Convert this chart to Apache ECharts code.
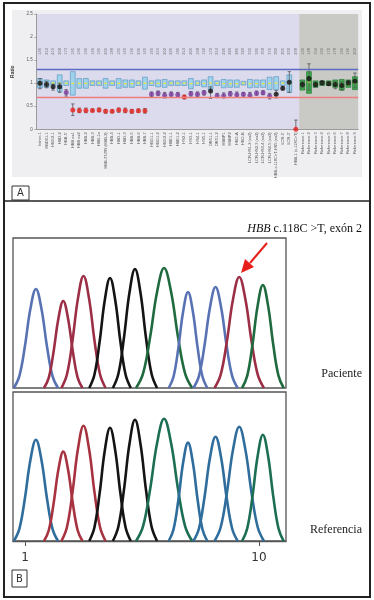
<!DOCTYPE html>
<html>
<head>
<meta charset="utf-8">
<script src="https://cdn.jsdelivr.net/npm/echarts@6/dist/echarts.min.js"></script>
<style>
  html, body { margin: 0; padding: 0; background: #fff; }
  #chart { width: 374px; height: 600px; }
</style>
</head>
<body>
<div id="chart"></div>
<script>
// ---- Panel A: ratios por sonda ----
const targetProbes = [
  'Intron 1', 'HBD01.1', 'HBG2-1', 'HBD-2', 'HBB-5\'', 'HBB ex1', 'HBB ex2', 'HBB-2', 'HBB-3', 'HBB-1a',
  'HBB-3\'UTR (HBB-2)', 'HBB-4', 'HBD-1', 'HBD-3', 'HBB-5', 'HBB-6', 'HBB-7', 'HBG1-1', 'HBG1-2', 'HBG2-2',
  'HBE1-1', 'HBE1-2', 'HS2-1', 'HS3-1', 'HS4-1', 'HS5-1', 'OR51-1', 'OR51-2', 'HBBP1', 'HBBP2',
  'HBG-A', 'HBG-B', 'LCR-HS1-2 (ex2)', 'LCR-HS2-3 (ex2)', 'LCR-HS3-4 (ex2)', 'LCR-HS4-5 (ex2)',
  'HBB-c.118C>T-HS5 (ex2)', 'LCR-5\'', 'LCR-3\'', 'HBB-1 (c.118C>T)'
];
const controlProbes = [
  'Reference 1', 'Reference 2', 'Reference 3', 'Reference 4', 'Reference 5',
  'Reference 6', 'Reference 7', 'Reference 8', 'Reference 9'
];
const probeSizes = [
  146, 212, 416, 208, 173, 195, 196, 190, 199, 195, 200, 188, 195, 160, 190, 236, 160, 166, 216, 202,
  226, 180, 214, 206, 168, 192, 172, 214, 226, 229, 286, 322, 334, 346, 358, 370, 382, 205, 232, 238,
  130, 148, 154, 160, 172, 178, 190, 196, 202
];
// rango de referencia (caja)
const refLow = [
  0.90, 0.91, 0.96, 0.82, 0.95, 0.74, 0.89, 0.89, 0.95, 0.95, 0.89, 0.95, 0.89, 0.91, 0.91, 0.95, 0.87, 0.95, 0.92, 0.91,
  0.95, 0.95, 0.95, 0.88, 0.95, 0.92, 0.87, 0.95, 0.90, 0.91, 0.91, 0.96, 0.90, 0.91, 0.91, 0.86, 0.86, 0.95, 0.80, null,
  0.85, 0.78, 0.91, 0.95, 0.95, 0.91, 0.85, 0.91, 0.86
];
const refHigh = [
  1.10, 1.07, 1.05, 1.18, 1.05, 1.25, 1.10, 1.10, 1.05, 1.05, 1.10, 1.05, 1.10, 1.07, 1.07, 1.05, 1.13, 1.05, 1.07, 1.08,
  1.05, 1.05, 1.05, 1.10, 1.05, 1.07, 1.14, 1.05, 1.08, 1.07, 1.07, 1.04, 1.08, 1.07, 1.07, 1.13, 1.14, 1.05, 1.18, null,
  1.07, 1.25, 1.05, 1.05, 1.05, 1.07, 1.08, 1.07, 1.14
];
// paciente: ratio y barras de error
const patientRatio = [
  1.00, 0.97, 0.92, 0.92, 0.80, 0.42, 0.41, 0.41, 0.41, 0.42, 0.39, 0.39, 0.42, 0.41, 0.39, 0.40, 0.40, 0.76, 0.78, 0.74,
  0.76, 0.75, 0.70, 0.77, 0.76, 0.79, 0.83, 0.73, 0.73, 0.77, 0.75, 0.76, 0.74, 0.78, 0.79, 0.72, 0.76, 0.89, 1.02, 0.00,
  0.97, 1.10, 0.97, 1.01, 0.99, 0.97, 0.95, 1.01, 1.04
];
const ratioLow = [
  0.88, 0.90, 0.85, 0.80, 0.72, 0.30, 0.36, 0.36, 0.38, 0.38, 0.35, 0.36, 0.37, 0.36, 0.35, 0.37, 0.35, 0.71, 0.73, 0.68,
  0.72, 0.70, 0.66, 0.72, 0.71, 0.74, 0.67, 0.69, 0.68, 0.72, 0.70, 0.72, 0.69, 0.74, 0.75, 0.66, 0.68, 0.85, 0.80, 0.00,
  0.90, 0.85, 0.92, 0.96, 0.95, 0.88, 0.85, 0.96, 0.90
];
const ratioHigh = [
  1.10, 1.04, 0.98, 1.00, 0.86, 0.55, 0.46, 0.46, 0.44, 0.46, 0.43, 0.42, 0.46, 0.46, 0.43, 0.44, 0.45, 0.81, 0.83, 0.80,
  0.81, 0.80, 0.74, 0.82, 0.81, 0.84, 0.92, 0.78, 0.79, 0.82, 0.81, 0.80, 0.80, 0.83, 0.84, 0.78, 0.84, 0.93, 1.25, 0.20,
  1.03, 1.42, 1.02, 1.05, 1.03, 1.03, 1.03, 1.05, 1.22
];
// N normal, I intermedio, D deleción
const ratioStatus = [
  'N', 'N', 'N', 'N', 'I', 'D', 'D', 'D', 'D', 'D', 'D', 'D', 'D', 'D', 'D', 'D', 'D', 'I', 'I', 'I',
  'I', 'I', 'D', 'I', 'I', 'I', 'N', 'I', 'I', 'I', 'I', 'I', 'I', 'I', 'I', 'I', 'N', 'N', 'N', 'D',
  'N', 'N', 'N', 'N', 'N', 'N', 'N', 'N', 'N'
];
const upperLimit = 1.3;
const lowerLimit = 0.7;

// ---- Panel B: cromatograma ----
const peakPos = [1.42, 2.47, 3.25, 4.27, 5.23, 6.35, 7.27, 8.33, 9.24, 10.15];
const peakWidth = [0.85, 0.74, 0.85, 0.8, 0.85, 1.08, 0.74, 0.85, 0.95, 0.8];
const patientHeight = [99, 87, 112, 110, 119, 120, 96, 101, 111, 103];
const refHeight = [102, 90, 116, 114, 122, 123, 99, 105, 115, 107];
const patientBases = ['C', 'T', 'T', 'G', 'G', 'A', 'C', 'C', 'T', 'A'];
const refBases = ['C', 'T', 'T', 'G', 'G', 'A', 'C', 'C', 'C', 'A'];
const chromTicks = [1, 10];

const probes = targetProbes.concat(controlProbes);
const nTarget = targetProbes.length;

const statusColor = { N: '#111', I: '#7a3a9e', D: '#e8231d' };
const patientColors = { C: '#5872b3', T: '#9c2f45', G: '#141414', A: '#1f6a3e' };
const refColors = { C: '#2f6d9d', T: '#a83340', G: '#141414', A: '#1c6e55' };
// forma normalizada de un pico (fracción del ancho, fracción de la altura)
const peakShape = [
  [-1, 0], [-0.75, 0.12], [-0.5, 0.42], [-0.25, 0.8], [0, 1],
  [0.25, 0.8], [0.5, 0.42], [0.75, 0.12], [1, 0]
];

const chart = echarts.init(document.getElementById('chart'));

const boxData = [];
const errData = [];
const dotData = [];
probes.forEach((p, i) => {
  if (refLow[i] != null) boxData.push([i, refLow[i], refHigh[i]]);
  errData.push([i, ratioLow[i], ratioHigh[i]]);
  dotData.push({ value: [i, patientRatio[i]], itemStyle: { color: statusColor[ratioStatus[i]] } });
});

const renderRegion = (params, api) => {
  const a = api.coord([api.value(0), 2.5]);
  const b = api.coord([api.value(1), 0]);
  return {
    type: 'rect',
    shape: { x: a[0], y: a[1], width: b[0] - a[0], height: b[1] - a[1] },
    style: { fill: params.dataIndex === 0 ? '#dcdbee' : '#c9cac6' }
  };
};

const renderBox = (params, api) => {
  const i = api.value(0);
  const lo = api.value(1), hi = api.value(2);
  const t = api.coord([i, hi]);
  const b = api.coord([i, lo]);
  const m = api.coord([i, (lo + hi) / 2]);
  const w = api.size([1, 0])[0] * 0.74;
  const ctrl = i >= nTarget;
  return {
    type: 'group',
    children: [
      {
        type: 'rect',
        shape: { x: t[0] - w / 2, y: t[1], width: w, height: b[1] - t[1] },
        style: { fill: ctrl ? '#3fae4f' : '#9fd2ec', stroke: ctrl ? '#1f6e2c' : '#4f8fb8', lineWidth: 0.6 }
      },
      {
        type: 'line',
        shape: { x1: m[0] - 1.4, y1: m[1], x2: m[0] + 1.4, y2: m[1] },
        style: { stroke: '#ece43a', lineWidth: 1.3 }
      }
    ]
  };
};

const renderErr = (params, api) => {
  const i = api.value(0);
  const a = api.coord([i, api.value(1)]);
  const b = api.coord([i, api.value(2)]);
  const c = 1.7;
  const st = { stroke: '#555', lineWidth: 0.8 };
  return {
    type: 'group',
    children: [
      { type: 'line', shape: { x1: a[0], y1: a[1], x2: b[0], y2: b[1] }, style: st },
      { type: 'line', shape: { x1: a[0] - c, y1: a[1], x2: a[0] + c, y2: a[1] }, style: st },
      { type: 'line', shape: { x1: b[0] - c, y1: b[1], x2: b[0] + c, y2: b[1] }, style: st }
    ]
  };
};

const peakSeries = (heights, bases, colors, axisIdx) =>
  heights.map((h, k) => ({
    type: 'line',
    xAxisIndex: axisIdx,
    yAxisIndex: axisIdx,
    data: peakShape.map(([f, g]) => [peakPos[k] + f * peakWidth[k], g * h]),
    smooth: 0.4,
    symbol: 'none',
    silent: true,
    lineStyle: { color: colors[bases[k]], width: 2.6 }
  }));

const option = {
  backgroundColor: '#fff',
  animation: false,
  graphic: [
    { type: 'rect', z: -20, shape: { x: 12, y: 10, width: 350, height: 167 }, style: { fill: '#efeff2' } },
    { type: 'rect', shape: { x: 4, y: 3, width: 366, height: 594 }, style: { fill: 'none', stroke: '#222', lineWidth: 2 } },
    { type: 'line', shape: { x1: 4, y1: 201, x2: 370, y2: 201 }, style: { stroke: '#222', lineWidth: 1.5 } },
    { type: 'rect', shape: { x: 12, y: 186, width: 17, height: 14 }, style: { fill: '#fff', stroke: '#333', lineWidth: 1 } },
    { type: 'text', x: 20.5, y: 193, style: { text: 'A', fontSize: 10, fill: '#333', align: 'center', verticalAlign: 'middle', fontFamily: 'DejaVu Sans' } },
    { type: 'rect', shape: { x: 12, y: 570, width: 15, height: 17 }, style: { fill: '#fff', stroke: '#333', lineWidth: 1 } },
    { type: 'text', x: 19.5, y: 579, style: { text: 'B', fontSize: 10, fill: '#333', align: 'center', verticalAlign: 'middle', fontFamily: 'DejaVu Sans' } },
    {
      type: 'text', x: 362, y: 229,
      style: {
        text: '{i|HBB} c.118C >T, exón 2', align: 'right', verticalAlign: 'middle',
        fontSize: 12, fontFamily: 'Liberation Serif', fill: '#111',
        rich: { i: { fontStyle: 'italic', fontSize: 12, fontFamily: 'Liberation Serif', fill: '#111' } }
      }
    },
    { type: 'line', shape: { x1: 267, y1: 243, x2: 250, y2: 263 }, style: { stroke: '#e8201c', lineWidth: 2 } },
    { type: 'polygon', shape: { points: [[241, 273], [245, 259], [254, 267]] }, style: { fill: '#e8201c' } },
    { type: 'text', x: 362, y: 374, style: { text: 'Paciente', align: 'right', verticalAlign: 'middle', fontSize: 12, fontFamily: 'Liberation Serif', fill: '#222' } },
    { type: 'text', x: 362, y: 530, style: { text: 'Referencia', align: 'right', verticalAlign: 'middle', fontSize: 12, fontFamily: 'Liberation Serif', fill: '#222' } }
  ],
  grid: [
    { left: 36.7, top: 14, width: 321.5, height: 115.3, containLabel: false, outerBoundsMode: 'none' },
    { left: 13, top: 238, width: 273, height: 150, show: true, borderColor: '#555', borderWidth: 1.3, backgroundColor: 'transparent', outerBoundsMode: 'none' },
    { left: 13, top: 392, width: 273, height: 149, show: true, borderColor: '#555', borderWidth: 1.3, backgroundColor: 'transparent', outerBoundsMode: 'none' }
  ],
  xAxis: [
    {
      gridIndex: 0, type: 'category', data: probes, boundaryGap: true,
      axisLine: { lineStyle: { color: '#888', width: 0.8 } },
      axisTick: { length: 2, lineStyle: { color: '#888', width: 0.6 } },
      axisLabel: { interval: 0, rotate: 90, fontSize: 4, color: '#555', margin: 3 },
      splitLine: { show: false }
    },
    { gridIndex: 1, type: 'value', min: 0.538, max: 11.04, show: false },
    {
      gridIndex: 2, type: 'value', min: 0.538, max: 11.04,
      axisLine: { show: true, lineStyle: { color: '#555', width: 1.3 } },
      axisTick: { show: true, customValues: chromTicks, length: 5, lineStyle: { color: '#555', width: 1 } },
      axisLabel: { customValues: chromTicks, fontSize: 12, color: '#333', margin: 11, fontFamily: 'DejaVu Sans' },
      splitLine: { show: false }
    },
    { gridIndex: 0, type: 'value', min: 0, max: probes.length, show: false }
  ],
  yAxis: [
    {
      gridIndex: 0, type: 'value', min: 0, max: 2.5, interval: 0.5,
      name: 'Ratio', nameLocation: 'middle', nameGap: 19,
      nameTextStyle: { fontSize: 5, fontWeight: 'bold', color: '#333' },
      axisLine: { show: true, lineStyle: { color: '#888', width: 0.8 } },
      axisTick: { show: true, length: 2.5, lineStyle: { color: '#888', width: 0.6 } },
      axisLabel: { fontSize: 4.5, color: '#555', margin: 4 },
      splitLine: { show: false }
    },
    { gridIndex: 1, type: 'value', min: 0, max: 150, show: false },
    { gridIndex: 2, type: 'value', min: 0, max: 150, show: false }
  ],
  series: [
    {
      type: 'custom', xAxisIndex: 3, yAxisIndex: 0, silent: true, z: 0,
      data: [[0, nTarget], [nTarget, probes.length]],
      renderItem: renderRegion
    },
    {
      type: 'custom', xAxisIndex: 0, yAxisIndex: 0, silent: true, z: 2,
      data: boxData, renderItem: renderBox,
      markLine: {
        silent: true, symbol: 'none', label: { show: false },
        data: [
          { yAxis: upperLimit, lineStyle: { color: '#5b6bc2', width: 1.4, type: 'solid' } },
          { yAxis: lowerLimit, lineStyle: { color: '#f07c7c', width: 1.4, type: 'solid' } }
        ]
      }
    },
    { type: 'custom', xAxisIndex: 0, yAxisIndex: 0, silent: true, z: 3, data: errData, renderItem: renderErr },
    {
      type: 'scatter', xAxisIndex: 0, yAxisIndex: 0, silent: true, z: 4,
      symbolSize: 5, data: dotData
    },
    {
      type: 'scatter', xAxisIndex: 0, yAxisIndex: 0, silent: true, z: 4, symbolSize: 0,
      data: probes.map((p, i) => [i, 1.69]),
      label: {
        show: true, position: 'inside', rotate: 90, fontSize: 4, color: '#555',
        formatter: (d) => String(probeSizes[d.dataIndex])
      }
    },
    ...peakSeries(patientHeight, patientBases, patientColors, 1),
    ...peakSeries(refHeight, refBases, refColors, 2)
  ]
};

chart.setOption(option);
</script>
</body>
</html>
